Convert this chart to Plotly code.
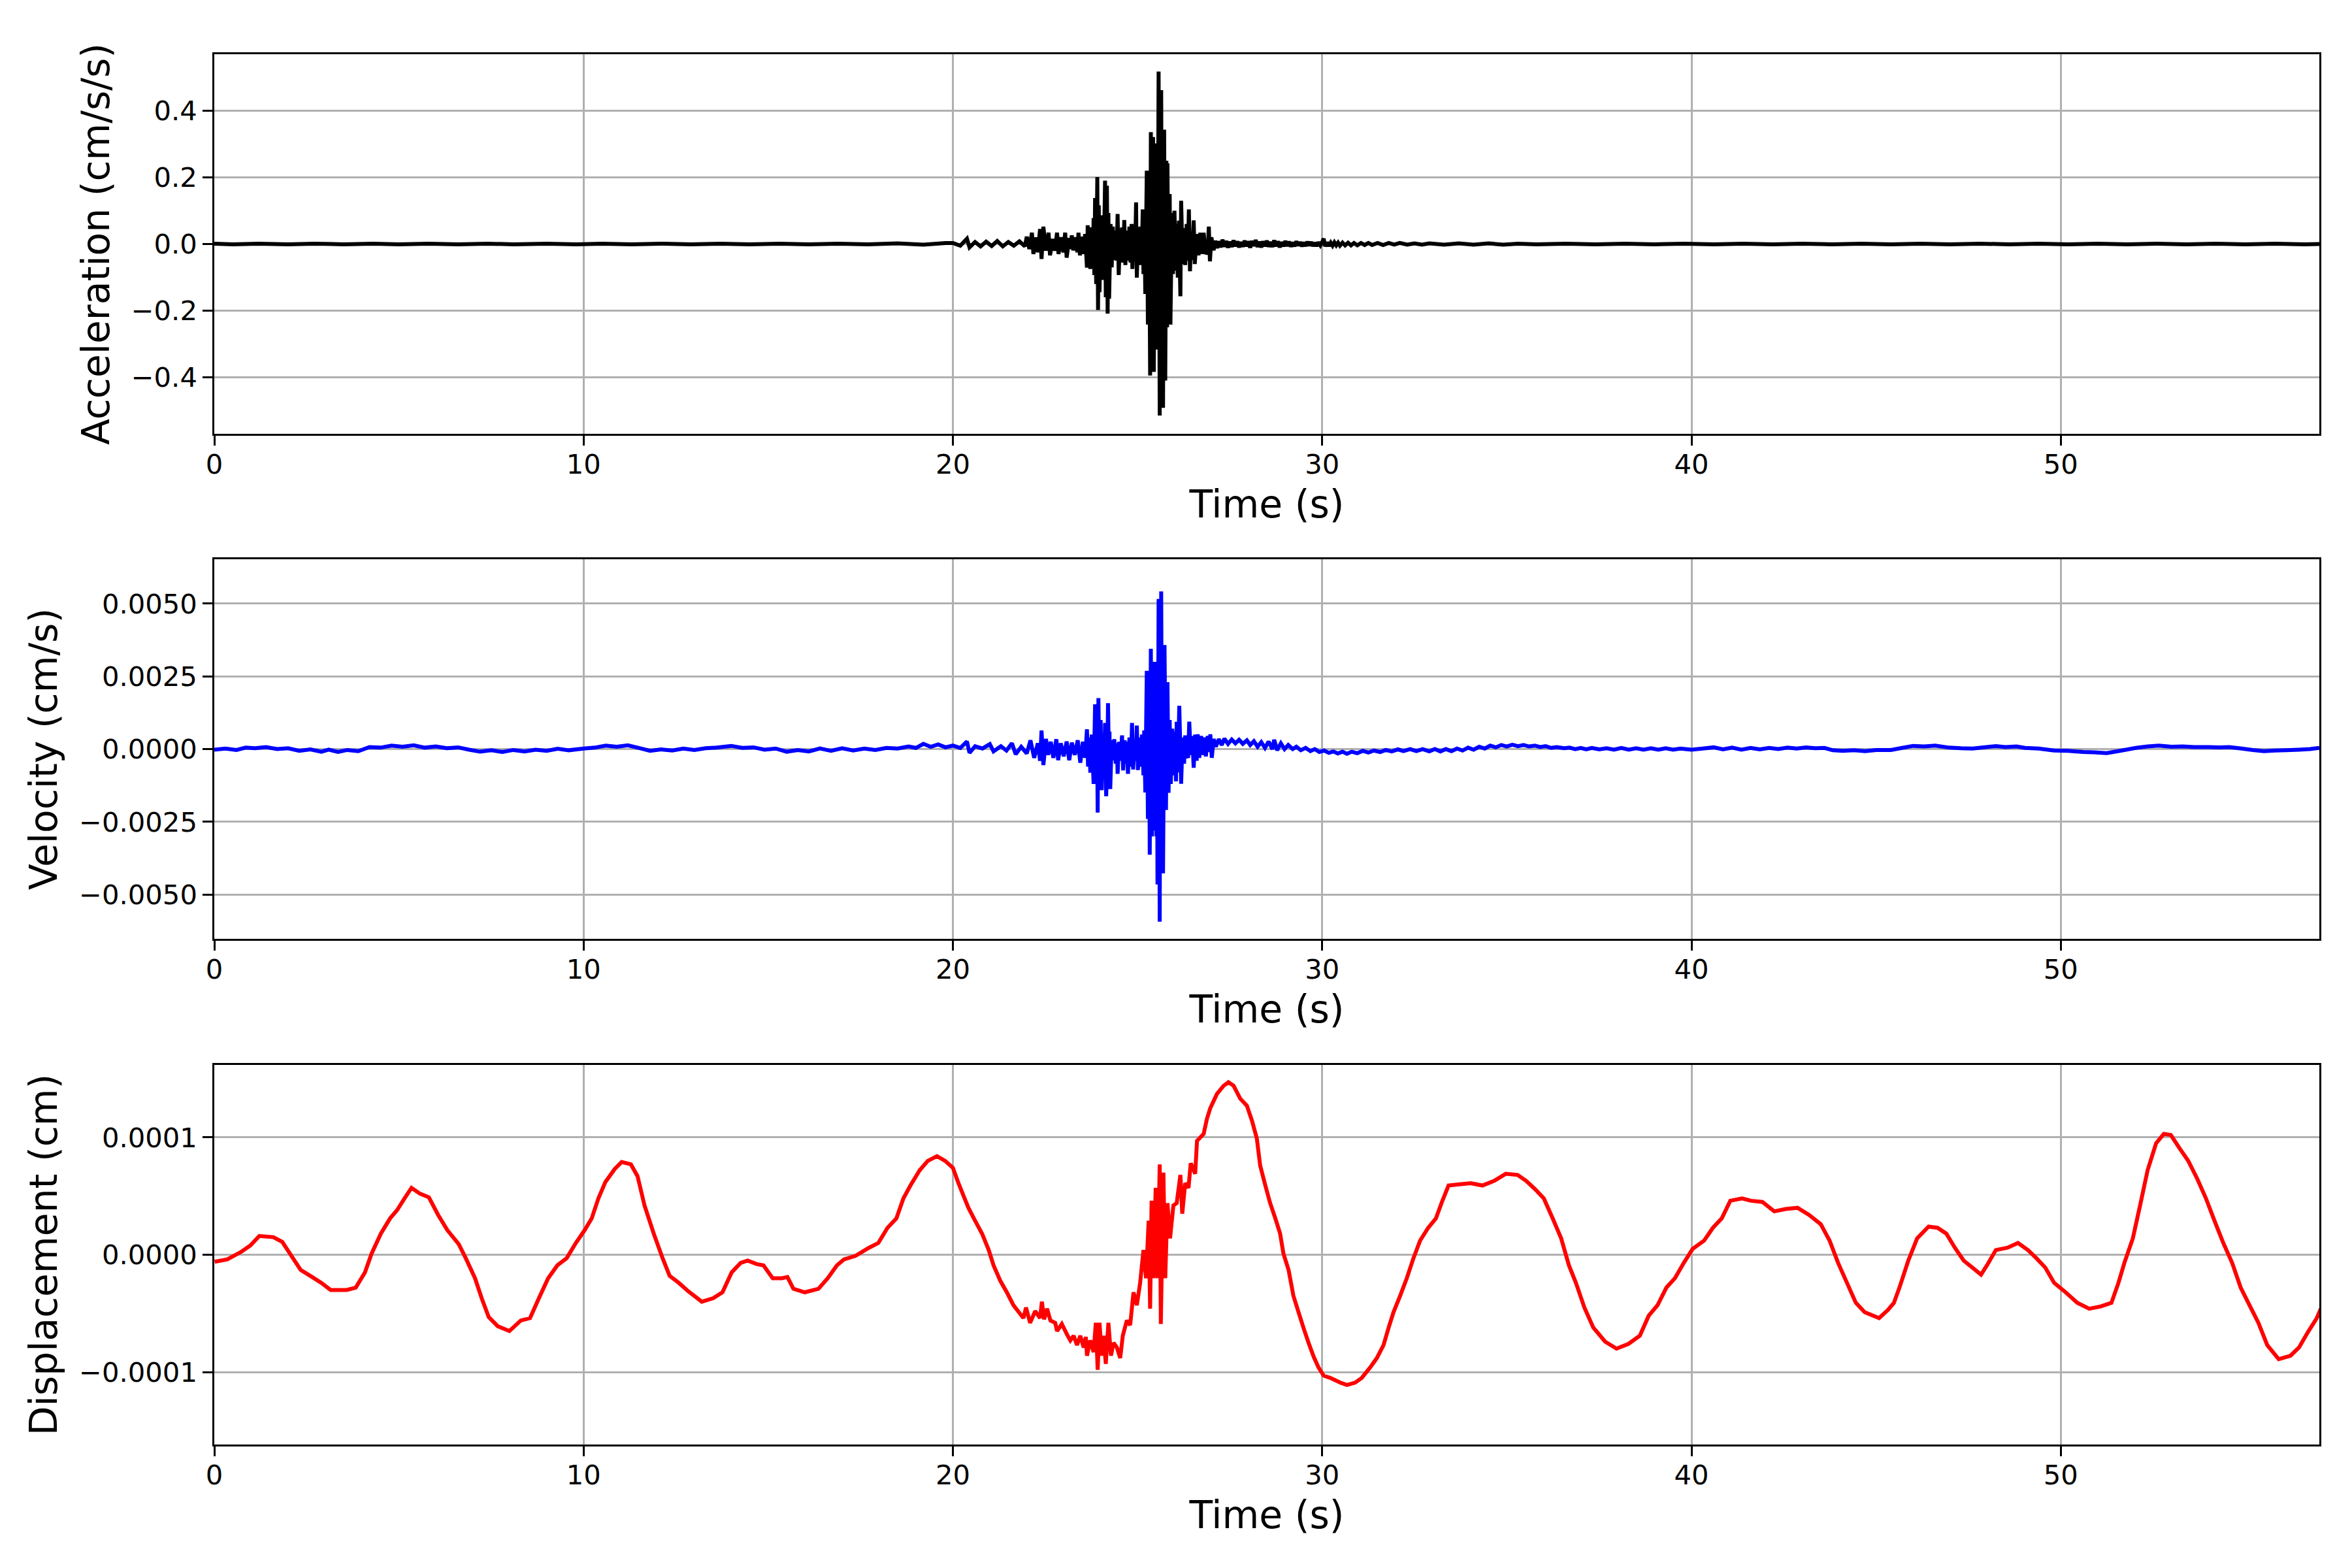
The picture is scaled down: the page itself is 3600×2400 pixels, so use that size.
"""
Three stacked traces of the same record: acceleration, velocity, displacement.
Values were read off the reference picture (time in s).
"""

import plotly.graph_objects as go

# acceleration (cm/s/s): (time, value)
acc_samples = [
    (0.0, 0.001), (0.5, -0.001), (1.2, 0.001), (2.0, -0.001), (2.7, 0.001),
    (3.5, -0.001), (4.3, 0.001), (5.0, -0.001), (5.8, 0.001), (6.6, -0.001),
    (7.4, 0.001), (8.1, -0.001), (9.0, 0.001), (9.8, -0.001), (10.5, 0.001),
    (11.3, -0.001), (12.1, 0.001), (12.9, -0.001), (13.7, 0.001), (14.5, -0.001),
    (15.3, 0.001), (16.1, -0.001), (16.9, 0.001), (17.7, -0.001), (18.5, 0.002),
    (19.2, -0.002), (19.8, 0.003),
    (20.0, 0.003), (20.2, -0.005), (20.38, 0.016), (20.45, -0.010), (20.6, 0.006),
    (20.75, -0.007), (20.9, 0.007), (21.05, -0.006), (21.2, 0.009), (21.35, -0.007),
    (21.5, 0.006), (21.65, -0.005), (21.8, 0.008), (21.95, -0.007), (22.0, 0.022),
    (22.07, -0.015), (22.14, 0.034), (22.18, -0.030), (22.25, 0.020), (22.3, -0.025),
    (22.36, 0.045), (22.4, -0.045), (22.45, 0.052), (22.52, -0.020), (22.59, 0.034),
    (22.63, -0.034), (22.7, 0.015), (22.76, -0.020), (22.82, 0.034), (22.86, -0.030),
    (22.93, 0.020), (22.99, -0.025), (23.04, 0.034), (23.08, -0.041), (23.15, 0.018),
    (23.18, -0.015), (23.22, 0.026), (23.26, -0.019), (23.33, 0.020), (23.37, -0.025),
    (23.40, 0.034), (23.44, -0.034), (23.50, 0.022), (23.54, -0.030), (23.58, 0.030),
    (23.63, -0.071), (23.65, 0.056), (23.69, -0.050), (23.70, 0.040), (23.72, -0.075),
    (23.76, 0.050), (23.79, -0.060), (23.81, 0.078), (23.83, -0.093), (23.85, 0.138),
    (23.88, -0.120), (23.91, 0.201), (23.93, -0.198), (23.95, 0.116), (23.97, -0.145),
    (24.00, 0.086), (24.03, -0.108), (24.06, 0.080), (24.08, -0.090), (24.12, 0.190),
    (24.14, -0.160), (24.17, 0.175), (24.19, -0.209), (24.21, 0.093), (24.23, -0.164),
    (24.27, 0.060), (24.30, -0.070), (24.33, 0.052), (24.37, -0.048), (24.41, 0.040),
    (24.43, -0.050), (24.46, 0.090), (24.49, -0.093), (24.53, 0.045), (24.56, -0.040),
    (24.58, 0.050), (24.61, -0.056), (24.64, 0.072), (24.67, -0.063), (24.71, 0.040),
    (24.74, -0.050), (24.78, 0.052), (24.81, -0.056), (24.84, 0.060), (24.86, -0.075),
    (24.90, 0.040), (24.93, -0.050), (24.96, 0.125), (24.98, -0.101), (25.02, 0.050),
    (25.05, -0.063), (25.08, 0.052), (25.11, -0.060), (25.14, 0.104), (25.16, -0.090),
    (25.18, 0.100), (25.21, -0.150),
    (25.25, 0.220), (25.28, -0.242), (25.31, 0.200), (25.34, -0.395), (25.36, 0.336),
    (25.39, -0.300), (25.42, 0.321), (25.44, -0.384), (25.47, 0.250), (25.49, -0.317),
    (25.52, 0.302), (25.54, -0.280), (25.57, 0.518), (25.60, -0.515), (25.62, 0.300),
    (25.63, -0.406), (25.64, 0.462), (25.665, -0.350), (25.67, 0.300), (25.69, -0.492),
    (25.72, 0.343), (25.75, -0.410), (25.78, 0.250), (25.80, -0.250), (25.81, 0.242),
    (25.84, -0.242), (25.87, 0.150), (25.89, -0.242), (25.93, 0.093), (25.96, -0.090),
    (26.00, 0.100), (26.03, -0.080), (26.06, 0.060), (26.09, -0.101), (26.12, 0.070),
    (26.16, -0.157), (26.18, 0.130), (26.22, -0.060), (26.26, 0.048), (26.29, -0.063),
    (26.33, 0.060), (26.36, -0.050), (26.39, 0.104), (26.42, -0.082), (26.45, 0.026),
    (26.48, -0.048), (26.52, 0.071), (26.55, -0.060), (26.60, 0.030), (26.65, -0.034),
    (26.70, 0.034), (26.75, -0.030), (26.79, 0.034), (26.84, -0.030), (26.90, -0.020),
    (26.93, 0.052), (26.96, -0.052), (27.00, 0.020), (27.06, -0.019),
    (27.10, 0.010), (27.15, -0.012), (27.20, 0.008), (27.25, -0.010), (27.30, 0.013),
    (27.35, -0.008), (27.40, 0.009), (27.45, -0.011), (27.50, 0.007), (27.55, -0.009),
    (27.60, 0.011), (27.65, -0.007), (27.70, 0.008), (27.75, -0.010), (27.80, 0.006),
    (27.85, -0.008), (27.90, 0.010), (27.95, -0.007), (28.00, 0.008), (28.05, -0.011),
    (28.10, 0.009), (28.15, -0.006), (28.20, 0.012), (28.25, -0.009), (28.30, 0.007),
    (28.35, -0.010), (28.40, 0.008), (28.45, -0.007), (28.50, 0.010), (28.55, -0.008),
    (28.60, 0.006), (28.65, -0.009), (28.70, 0.011), (28.75, -0.007), (28.80, 0.008),
    (28.85, -0.010), (28.90, 0.006), (28.95, -0.007), (29.00, 0.009), (29.05, -0.006),
    (29.10, 0.007), (29.15, -0.008), (29.20, 0.005), (29.25, -0.007), (29.30, 0.008),
    (29.35, -0.005), (29.40, 0.006), (29.45, -0.007), (29.50, 0.005), (29.55, -0.006),
    (29.60, 0.007), (29.65, -0.005), (29.70, 0.006), (29.75, -0.006), (29.80, 0.004),
    (29.85, -0.006), (29.90, 0.005), (29.95, -0.004), (30.00, 0.006), (30.04, 0.016),
    (30.08, -0.007), (30.13, 0.005), (30.18, -0.006), (30.23, 0.004), (30.28, -0.005),
    (30.33, 0.005), (30.38, -0.004), (30.43, 0.004), (30.48, -0.005), (30.55, 0.004),
    (30.62, -0.004), (30.70, 0.004), (30.78, -0.004), (30.86, 0.003), (30.95, -0.004),
    (31.05, 0.003), (31.15, -0.003), (31.25, 0.003), (31.35, -0.003), (31.5, 0.003),
    (31.65, -0.003), (31.8, 0.003), (31.95, -0.002), (32.1, 0.003), (32.3, -0.002),
    (32.5, 0.002), (32.7, -0.002), (32.9, 0.002), (33.3, -0.002), (33.7, 0.002),
    (34.1, -0.002), (34.5, 0.002), (34.9, -0.002), (35.3, 0.001),
    (35.8, -0.001), (36.6, 0.001), (37.4, -0.001), (38.2, 0.001), (39.0, -0.001),
    (39.8, 0.001), (40.6, -0.001), (41.4, 0.001), (42.2, -0.001), (43.0, 0.001),
    (43.8, -0.001), (44.6, 0.001), (45.4, -0.001), (46.2, 0.001), (47.0, -0.001),
    (47.8, 0.001), (48.6, -0.001), (49.4, 0.001), (50.2, -0.001), (51.0, 0.001),
    (51.8, -0.001), (52.6, 0.001), (53.4, -0.001), (54.2, 0.001), (55.0, -0.001),
    (55.8, 0.001), (56.6, -0.001), (57.0, 0.0),
]

# velocity (cm/s): (time, value)
vel_samples = [
    (0.0, -0.00002), (0.3, 0.00002), (0.6, -0.00003), (0.85, 0.00005), (1.1, 0.00003),
    (1.4, 0.00007), (1.7, 0.00000), (2.0, 0.00003), (2.3, -0.00006), (2.6, -0.00001),
    (2.9, -0.00009), (3.1, -0.00002), (3.35, -0.00010), (3.6, -0.00003), (3.9, -0.00007),
    (4.2, 0.00007), (4.5, 0.00005), (4.8, 0.00012), (5.1, 0.00008), (5.4, 0.00013),
    (5.7, 0.00005), (6.0, 0.00009), (6.3, 0.00003), (6.6, 0.00006), (6.9, -0.00002),
    (7.2, -0.00009), (7.5, -0.00004), (7.8, -0.00010), (8.1, -0.00003), (8.4, -0.00008),
    (8.7, -0.00002), (9.0, -0.00006), (9.3, 0.00001), (9.6, -0.00004), (10.0, 0.00002),
    (10.3, 0.00005), (10.6, 0.00012), (10.9, 0.00008), (11.2, 0.00013), (11.5, 0.00004),
    (11.8, -0.00006), (12.1, -0.00001), (12.4, -0.00005), (12.7, 0.00002), (13.0, -0.00003),
    (13.3, 0.00003), (13.6, 0.00005), (14.0, 0.00011), (14.3, 0.00004), (14.6, 0.00006),
    (14.9, -0.00002), (15.2, 0.00002), (15.5, -0.00009), (15.8, -0.00003), (16.1, -0.00008),
    (16.4, 0.00002), (16.7, -0.00006), (17.0, 0.00003), (17.3, -0.00005), (17.6, 0.00002),
    (17.9, -0.00003), (18.2, 0.00004), (18.5, 0.00002), (18.8, 0.00009), (19.0, 0.00004),
    (19.2, 0.00018), (19.4, 0.00008), (19.6, 0.00016), (19.8, 0.00006),
    (20.0, 0.00012), (20.2, 0.00004), (20.38, 0.00026), (20.45, -0.00013), (20.6, 0.00010),
    (20.8, 0.00002), (21.0, 0.00017), (21.1, -0.00008), (21.3, 0.00010), (21.45, -0.00005),
    (21.6, 0.00020), (21.7, -0.00018), (21.85, 0.00008), (22.0, -0.00015), (22.1, 0.00030),
    (22.2, -0.00030), (22.3, 0.00020), (22.36, -0.00040), (22.4, 0.00064), (22.45, -0.00055),
    (22.52, 0.00035), (22.58, -0.00020), (22.65, 0.00025), (22.72, -0.00030), (22.8, 0.00034),
    (22.85, -0.00038), (22.92, 0.00020), (23.0, -0.00025), (23.08, 0.00026), (23.15, -0.00038),
    (23.22, 0.00022), (23.3, -0.00020), (23.38, 0.00030), (23.45, -0.00047), (23.52, 0.00025),
    (23.58, -0.00030), (23.63, 0.00068), (23.66, -0.00060), (23.7, 0.00040), (23.72, -0.00081),
    (23.76, 0.00050), (23.81, -0.00120), (23.85, 0.00154), (23.88, -0.00090), (23.90, 0.00120),
    (23.92, -0.00218), (23.94, 0.00175), (23.97, -0.00100), (24.00, 0.00100), (24.03, -0.00141),
    (24.06, 0.00055), (24.09, -0.00080), (24.12, 0.00090), (24.15, -0.00162), (24.18, -0.00050),
    (24.20, 0.00158), (24.23, -0.00080), (24.24, 0.00060), (24.26, -0.00137), (24.30, 0.00030),
    (24.33, -0.00038), (24.37, 0.00034), (24.41, -0.00050), (24.44, 0.00020), (24.46, -0.00085),
    (24.50, 0.00025), (24.54, -0.00040), (24.58, 0.00047), (24.61, -0.00073), (24.65, 0.00030),
    (24.68, -0.00050), (24.71, 0.00025), (24.74, -0.00085), (24.78, 0.00040), (24.82, -0.00060),
    (24.85, 0.00090), (24.88, -0.00070), (24.92, 0.00030), (24.95, -0.00040), (24.98, 0.00081),
    (25.01, -0.00072), (25.05, 0.00040), (25.09, -0.00060), (25.12, 0.00050), (25.16, -0.00090),
    (25.18, 0.00064),
    (25.21, -0.00149), (25.25, 0.00269), (25.28, -0.00240), (25.31, 0.00250), (25.33, -0.00363),
    (25.36, 0.00345), (25.39, -0.00300), (25.42, 0.00300), (25.45, -0.00280), (25.48, 0.00280),
    (25.51, -0.00300), (25.52, 0.00300), (25.54, -0.00465), (25.57, 0.00516), (25.60, -0.00593),
    (25.62, 0.00450), (25.625, -0.00300), (25.64, 0.00542), (25.67, -0.00350), (25.675, 0.00200),
    (25.69, -0.00427), (25.73, 0.00358), (25.77, -0.00209), (25.79, 0.00150), (25.80, -0.00120),
    (25.81, 0.00230), (25.84, -0.00150), (25.87, 0.00100), (25.90, -0.00120),
    (25.94, 0.00070), (25.98, -0.00090), (26.01, 0.00060), (26.04, -0.00111), (26.06, 0.00094),
    (26.09, -0.00080), (26.13, 0.00149), (26.18, -0.00119), (26.22, 0.00040), (26.26, -0.00050),
    (26.29, 0.00047), (26.33, -0.00020), (26.37, -0.00030), (26.40, 0.00094), (26.44, -0.00020),
    (26.48, 0.00045), (26.52, -0.00064), (26.56, 0.00050), (26.60, -0.00040), (26.63, 0.00051),
    (26.67, -0.00030), (26.72, 0.00045), (26.76, -0.00020), (26.80, 0.00040), (26.85, -0.00025),
    (26.90, 0.00045), (26.94, -0.00010), (26.97, 0.00051), (27.01, -0.00030), (27.06, 0.00035),
    (27.12, 0.00008), (27.2, 0.00034), (27.28, 0.00014), (27.35, 0.00036), (27.45, 0.00018),
    (27.55, 0.00033), (27.65, 0.00020), (27.75, 0.00032), (27.85, 0.00018), (27.96, 0.00030),
    (28.05, 0.00014), (28.15, 0.00027), (28.25, 0.00008), (28.35, 0.00024), (28.45, 0.00004),
    (28.55, 0.00026), (28.65, 0.00000), (28.70, 0.00032), (28.78, -0.00004), (28.88, 0.00020),
    (28.98, 0.00000), (29.08, 0.00014), (29.2, 0.00000), (29.3, 0.00008), (29.42, -0.00004),
    (29.55, 0.00004), (29.68, -0.00007), (29.8, 0.00000), (29.92, -0.00010), (30.05, -0.00005),
    (30.18, -0.00013), (30.3, -0.00008), (30.42, -0.00015), (30.55, -0.00009), (30.67, -0.00016),
    (30.8, -0.00009), (30.95, -0.00014), (31.1, -0.00006), (31.25, -0.00012), (31.4, -0.00005),
    (31.57, -0.00010), (31.72, -0.00003), (31.88, -0.00008), (32.05, -0.00001), (32.2, -0.00007),
    (32.38, 0.00000), (32.55, -0.00007), (32.72, 0.00000), (32.9, -0.00008),
    (33.05, 0.00000), (33.2, -0.00008), (33.35, 0.00000), (33.5, -0.00007), (33.65, 0.00002),
    (33.8, -0.00005), (33.95, 0.00005), (34.1, -0.00002), (34.25, 0.00008), (34.4, 0.00002),
    (34.55, 0.00012), (34.7, 0.00006), (34.85, 0.00014), (35.0, 0.00009), (35.15, 0.00015),
    (35.3, 0.00010), (35.45, 0.00014), (35.6, 0.00009), (35.76, 0.00012), (35.9, 0.00007),
    (36.05, 0.00010), (36.2, 0.00004), (36.35, 0.00007), (36.55, 0.00003), (36.7, 0.00005),
    (36.85, 0.00000), (37.0, 0.00004), (37.15, -0.00001), (37.3, 0.00004), (37.5, -0.00001),
    (37.7, 0.00003), (37.9, -0.00002), (38.1, 0.00004), (38.3, -0.00002), (38.5, 0.00003),
    (38.7, -0.00002), (38.9, 0.00003), (39.1, -0.00002), (39.3, 0.00003), (39.5, -0.00002),
    (39.7, 0.00002), (40.0, -0.00002), (40.3, 0.00002), (40.6, 0.00006), (40.85, -0.00001),
    (41.1, 0.00005), (41.35, -0.00002), (41.6, 0.00004), (41.85, -0.00001), (42.1, 0.00004),
    (42.35, 0.00000), (42.6, 0.00005), (42.85, 0.00002), (43.1, 0.00006), (43.35, 0.00003),
    (43.6, 0.00004), (43.82, -0.00004), (44.1, -0.00006), (44.4, -0.00004), (44.7, -0.00007),
    (45.0, -0.00003), (45.4, -0.00003), (45.7, 0.00004), (46.0, 0.00011), (46.3, 0.00009),
    (46.6, 0.00012), (46.98, 0.00005), (47.3, 0.00003), (47.61, 0.00002), (47.9, 0.00006),
    (48.24, 0.00010), (48.5, 0.00007), (48.8, 0.00009), (49.03, 0.00004), (49.4, 0.00002),
    (49.82, -0.00005), (50.2, -0.00006), (50.61, -0.00010), (50.9, -0.00011), (51.24, -0.00014),
    (51.6, -0.00006), (52.03, 0.00004), (52.35, 0.00009), (52.66, 0.00012), (53.0, 0.00008),
    (53.3, 0.00009), (53.61, 0.00007), (54.0, 0.00007), (54.3, 0.00006), (54.56, 0.00007),
    (54.9, 0.00002), (55.2, -0.00003), (55.5, -0.00007), (55.8, -0.00005), (56.1, -0.00004),
    (56.45, -0.00002), (56.75, 0.00000), (57.0, 0.00004),
]

# displacement (cm): (time, value)
disp_samples = [
    (0.01, -0.06e-4), (0.35, -0.04e-4), (0.73, 0.025e-4), (0.98, 0.08e-4), (1.22, 0.16e-4),
    (1.6, 0.15e-4), (1.84, 0.11e-4), (2.09, -0.01e-4), (2.34, -0.13e-4), (2.65, -0.19e-4),
    (2.9, -0.24e-4), (3.15, -0.30e-4), (3.58, -0.30e-4), (3.83, -0.28e-4), (4.08, -0.15e-4),
    (4.26, 0.01e-4), (4.51, 0.18e-4), (4.76, 0.31e-4), (4.95, 0.38e-4), (5.13, 0.47e-4),
    (5.34, 0.57e-4), (5.57, 0.52e-4), (5.81, 0.49e-4), (6.06, 0.34e-4), (6.31, 0.21e-4),
    (6.62, 0.09e-4), (6.81, -0.03e-4), (7.06, -0.20e-4), (7.24, -0.37e-4), (7.43, -0.53e-4),
    (7.68, -0.61e-4), (7.99, -0.65e-4), (8.3, -0.56e-4), (8.55, -0.54e-4), (8.79, -0.37e-4),
    (9.04, -0.20e-4), (9.29, -0.09e-4), (9.54, -0.03e-4), (9.79, 0.10e-4), (10.03, 0.21e-4),
    (10.22, 0.31e-4), (10.4, 0.48e-4), (10.59, 0.62e-4), (10.84, 0.73e-4), (11.03, 0.79e-4),
    (11.28, 0.77e-4), (11.46, 0.67e-4), (11.65, 0.42e-4), (11.9, 0.18e-4), (12.14, -0.03e-4),
    (12.33, -0.18e-4), (12.58, -0.24e-4), (12.83, -0.31e-4), (13.2, -0.40e-4), (13.51, -0.37e-4),
    (13.76, -0.32e-4), (14.01, -0.15e-4), (14.25, -0.07e-4), (14.44, -0.05e-4), (14.69, -0.08e-4),
    (14.87, -0.09e-4), (15.12, -0.20e-4), (15.37, -0.20e-4), (15.52, -0.19e-4), (15.68, -0.29e-4),
    (15.99, -0.32e-4), (16.36, -0.29e-4), (16.61, -0.20e-4), (16.86, -0.09e-4), (17.05, -0.04e-4),
    (17.36, -0.01e-4), (17.73, 0.06e-4), (17.98, 0.10e-4), (18.23, 0.23e-4), (18.47, 0.31e-4),
    (18.66, 0.48e-4), (18.85, 0.59e-4), (19.1, 0.72e-4), (19.32, 0.80e-4),
    (19.57, 0.84e-4), (19.79, 0.80e-4), (20.0, 0.74e-4), (20.15, 0.61e-4), (20.29, 0.50e-4),
    (20.42, 0.40e-4), (20.6, 0.29e-4), (20.79, 0.18e-4), (20.97, 0.04e-4), (21.1, -0.09e-4),
    (21.28, -0.22e-4), (21.46, -0.32e-4), (21.64, -0.43e-4), (21.91, -0.54e-4), (21.98, -0.45e-4),
    (22.09, -0.58e-4), (22.23, -0.48e-4), (22.36, -0.54e-4), (22.41, -0.40e-4), (22.47, -0.55e-4),
    (22.55, -0.46e-4), (22.64, -0.56e-4), (22.77, -0.58e-4), (22.82, -0.65e-4), (22.95, -0.59e-4),
    (23.09, -0.68e-4), (23.18, -0.73e-4), (23.27, -0.69e-4), (23.36, -0.77e-4), (23.45, -0.69e-4),
    (23.54, -0.79e-4), (23.6, -0.70e-4), (23.63, -0.86e-4), (23.72, -0.73e-4), (23.81, -0.83e-4),
    (23.87, -0.58e-4), (23.92, -0.98e-4), (23.97, -0.58e-4), (24.03, -0.86e-4), (24.08, -0.69e-4),
    (24.14, -0.93e-4), (24.21, -0.58e-4), (24.28, -0.86e-4), (24.35, -0.75e-4), (24.44, -0.79e-4),
    (24.53, -0.88e-4), (24.6, -0.69e-4), (24.71, -0.56e-4), (24.8, -0.60e-4), (24.89, -0.32e-4),
    (24.98, -0.43e-4), (25.07, -0.24e-4), (25.16, 0.04e-4), (25.23, -0.20e-4), (25.3, 0.29e-4),
    (25.34, -0.46e-4), (25.38, 0.46e-4), (25.43, -0.20e-4), (25.49, 0.57e-4), (25.54, -0.20e-4),
    (25.6, 0.77e-4), (25.63, -0.59e-4), (25.7, 0.70e-4), (25.75, -0.20e-4), (25.81, 0.44e-4),
    (25.88, 0.14e-4), (25.97, 0.42e-4), (26.06, 0.44e-4), (26.16, 0.68e-4), (26.21, 0.35e-4),
    (26.29, 0.61e-4), (26.38, 0.57e-4), (26.44, 0.78e-4), (26.56, 0.69e-4), (26.61, 0.97e-4),
    (26.79, 1.03e-4), (26.88, 1.16e-4), (26.97, 1.25e-4), (27.15, 1.37e-4), (27.33, 1.44e-4),
    (27.46, 1.47e-4), (27.6, 1.44e-4), (27.78, 1.33e-4), (27.96, 1.27e-4), (28.1, 1.14e-4),
    (28.23, 0.99e-4), (28.32, 0.76e-4), (28.46, 0.59e-4), (28.59, 0.44e-4), (28.73, 0.31e-4),
    (28.86, 0.18e-4), (28.95, 0.01e-4), (29.09, -0.13e-4), (29.22, -0.35e-4), (29.36, -0.49e-4),
    (29.49, -0.62e-4), (29.63, -0.75e-4), (29.77, -0.87e-4), (29.9, -0.96e-4), (30.04, -1.03e-4),
    (30.22, -1.05e-4), (30.49, -1.09e-4), (30.67, -1.11e-4), (30.89, -1.09e-4), (31.07, -1.05e-4),
    (31.3, -0.96e-4), (31.48, -0.88e-4), (31.66, -0.77e-4), (31.8, -0.62e-4), (31.93, -0.49e-4),
    (32.11, -0.35e-4), (32.29, -0.20e-4), (32.47, -0.03e-4), (32.65, 0.12e-4), (32.87, 0.23e-4),
    (33.08, 0.31e-4), (33.23, 0.44e-4), (33.42, 0.59e-4), (33.71, 0.60e-4), (34.02, 0.61e-4),
    (34.34, 0.59e-4), (34.66, 0.63e-4), (34.97, 0.69e-4), (35.29, 0.68e-4), (35.52, 0.63e-4),
    (35.76, 0.56e-4), (36.0, 0.48e-4), (36.24, 0.31e-4), (36.47, 0.14e-4), (36.68, -0.09e-4),
    (36.87, -0.24e-4), (37.1, -0.45e-4), (37.34, -0.62e-4), (37.66, -0.74e-4), (37.97, -0.80e-4),
    (38.29, -0.76e-4), (38.6, -0.69e-4), (38.84, -0.52e-4), (39.08, -0.43e-4), (39.32, -0.28e-4),
    (39.55, -0.20e-4), (39.79, -0.07e-4), (40.03, 0.05e-4), (40.34, 0.12e-4), (40.58, 0.23e-4),
    (40.82, 0.31e-4), (41.05, 0.46e-4), (41.37, 0.48e-4), (41.61, 0.46e-4), (41.92, 0.45e-4),
    (42.24, 0.37e-4), (42.55, 0.39e-4), (42.87, 0.40e-4), (43.18, 0.34e-4), (43.5, 0.26e-4),
    (43.74, 0.12e-4), (43.97, -0.07e-4), (44.21, -0.24e-4), (44.45, -0.41e-4), (44.69, -0.49e-4),
    (45.08, -0.54e-4), (45.32, -0.47e-4), (45.48, -0.41e-4), (45.63, -0.28e-4), (45.87, -0.05e-4),
    (46.11, 0.14e-4), (46.42, 0.24e-4), (46.66, 0.23e-4), (46.9, 0.18e-4), (47.13, 0.06e-4),
    (47.37, -0.05e-4), (47.61, -0.11e-4), (47.84, -0.17e-4), (48.0, -0.09e-4), (48.24, 0.04e-4),
    (48.56, 0.06e-4), (48.84, 0.10e-4), (49.11, 0.04e-4), (49.34, -0.03e-4), (49.58, -0.11e-4),
    (49.82, -0.24e-4), (50.13, -0.32e-4), (50.45, -0.41e-4), (50.77, -0.46e-4), (51.08, -0.44e-4),
    (51.37, -0.41e-4), (51.56, -0.24e-4), (51.72, -0.07e-4), (51.95, 0.14e-4), (52.16, 0.44e-4),
    (52.35, 0.72e-4), (52.58, 0.95e-4), (52.79, 1.03e-4), (52.98, 1.02e-4), (53.21, 0.91e-4),
    (53.45, 0.80e-4), (53.69, 0.65e-4), (53.93, 0.48e-4), (54.16, 0.29e-4), (54.4, 0.10e-4),
    (54.64, -0.07e-4), (54.87, -0.28e-4), (55.11, -0.43e-4), (55.35, -0.58e-4), (55.59, -0.77e-4),
    (55.9, -0.89e-4), (56.22, -0.86e-4), (56.45, -0.79e-4), (56.69, -0.66e-4), (56.93, -0.54e-4),
    (57.04, -0.46e-4),
]

time_ticks = [0, 10, 20, 30, 40, 50]
time_max = 57

FONT = "DejaVu Sans"
GRID = "#b0b0b0"

panels = [
    # samples, colour, y label, tick step, tick format, y domain
    (acc_samples, "#000000", "Acceleration (cm/s/s)", 0.2, ".1f", [0.7270, 1.0]),
    (vel_samples, "#0000ff", "Velocity (cm/s)", 0.0025, ".4f", [0.3637, 0.6367]),
    (disp_samples, "#ff0000", "Displacement (cm)", 0.0001, ".4f", [0.0, 0.2730]),
]

fig = go.Figure()
layout = {}

for i, (samples, colour, ylabel, step, fmt, dom) in enumerate(panels, start=1):
    t = [s[0] for s in samples]
    v = [s[1] for s in samples]
    sfx = "" if i == 1 else str(i)

    fig.add_trace(go.Scatter(
        x=t, y=v, mode="lines", xaxis="x" + sfx, yaxis="y" + sfx,
        line=dict(color=colour, width=6, simplify=False),
        showlegend=False, hoverinfo="skip",
    ))

    # symmetric limits, 10% above the largest swing
    lim = 1.1 * max(abs(x) for x in v)

    common = dict(
        showline=True, mirror=True, linecolor="black", linewidth=3.3,
        ticks="outside", ticklen=14.6, tickwidth=3.3, tickcolor="black",
        showgrid=True, gridcolor=GRID, gridwidth=3.3, zeroline=False,
        automargin=False,
        tickfont=dict(family=FONT, size=41.7, color="black"),
    )
    layout["xaxis" + sfx] = dict(
        common, domain=[0, 1], anchor="y" + sfx, range=[0, time_max],
        tickmode="array", tickvals=time_ticks, ticklabelstandoff=-7,
        title=dict(text="Time (s)", standoff=18,
                   font=dict(family=FONT, size=58.3, color="black")),
    )
    layout["yaxis" + sfx] = dict(
        common, domain=dom, anchor="x" + sfx, range=[-lim, lim],
        tick0=0, dtick=step, tickformat=fmt,
        title=dict(text=ylabel, standoff=15,
                   font=dict(family=FONT, size=58.3, color="black")),
    )

# the page body adds 8 px on the left and top, so the margins give them back
fig.update_layout(
    width=3600, height=2400,
    margin=dict(l=320, r=58, t=75, b=197),
    paper_bgcolor="white", plot_bgcolor="white",
    font=dict(family=FONT, color="black"),
    **layout,
)

fig.write_html("out.html")
